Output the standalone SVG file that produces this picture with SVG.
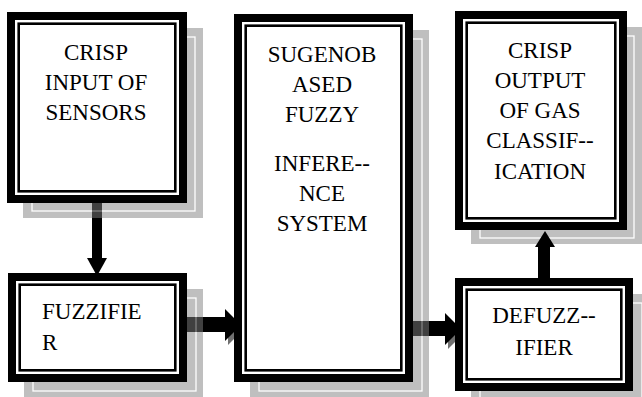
<svg xmlns="http://www.w3.org/2000/svg" width="642" height="397" viewBox="0 0 642 397">
  <style>
    .shadow { opacity: 0.5; }
    .shadow rect.fill { fill: #808080; }
    .shadow rect.line { fill: none; stroke: #ffffff; stroke-width: 1.3; }
    .frame { fill: #ffffff; stroke: #000000; stroke-width: 8; }
    .inner { fill: none; stroke: #000000; stroke-width: 2.6; }
    .label { font-family: "Liberation Serif", "DejaVu Serif", serif; font-size: 23px; fill: #000000; }
    .mid { text-anchor: middle; }
    .arrow { fill: #000000; }
    .arrow-shade { fill: #707070; }
  </style>

  <!-- Crisp output block (drawn first so the up arrow sits on its shadow) -->
  <g id="crisp-output">
    <g class="shadow">
      <rect class="fill" x="471" y="27" width="172" height="217"/>
      <rect class="line" x="480" y="36" width="154" height="202"/>
    </g>
    <rect class="frame" x="459" y="15" width="164" height="211"/>
    <rect class="inner" x="466.7" y="22.7" width="148.6" height="195.6"/>
    <g class="label" font-family="Liberation Serif, DejaVu Serif, serif">
      <text class="mid" x="540" y="58">CRISP</text>
      <text class="mid" x="540" y="88">OUTPUT</text>
      <text class="mid" x="540" y="118">OF GAS</text>
      <text class="mid" x="540" y="148">CLASSIF--</text>
      <text class="mid" x="540" y="179">ICATION</text>
    </g>
  </g>

  <!-- Block arrows between the stages -->
  <g id="connectors">
    <g id="input-to-fuzzifier">
      <rect class="arrow" x="92" y="200" width="10" height="60"/>
      <polygon class="arrow" points="87,258 107,258 97,276"/>
    </g>
    <g id="fuzzifier-to-inference">
      <polygon class="arrow-shade" points="228,313 228,345 244,329"/>
      <rect class="arrow" x="185" y="317" width="42" height="15"/>
      <polygon class="arrow" points="225,309 225,341 241,325"/>
    </g>
    <g id="inference-to-defuzzifier">
      <polygon class="arrow-shade" points="448,317 448,349 464,333"/>
      <rect class="arrow" x="411" y="321" width="36" height="15"/>
      <polygon class="arrow" points="445,313 445,345 461,329"/>
    </g>
    <g id="defuzzifier-to-output">
      <rect class="arrow" x="538" y="245" width="12" height="36"/>
      <polygon class="arrow" points="535,247 555,247 545,231"/>
    </g>
  </g>

  <!-- Crisp input block -->
  <g id="crisp-input">
    <g class="shadow">
      <rect class="fill" x="23" y="28" width="180" height="190"/>
      <rect class="line" x="32" y="37" width="163" height="174"/>
    </g>
    <rect class="frame" x="11" y="16" width="172" height="183"/>
    <rect class="inner" x="18.7" y="23.7" width="156.6" height="167.6"/>
    <g class="label" font-family="Liberation Serif, DejaVu Serif, serif">
      <text class="mid" x="96" y="60">CRISP</text>
      <text class="mid" x="96" y="90">INPUT OF</text>
      <text class="mid" x="96" y="120">SENSORS</text>
    </g>
  </g>

  <!-- Fuzzifier block -->
  <g id="fuzzifier">
    <g class="shadow">
      <rect class="fill" x="24" y="289" width="179" height="109"/>
      <rect class="line" x="33" y="298" width="163" height="93"/>
    </g>
    <rect class="frame" x="12" y="277" width="171" height="101"/>
    <rect class="inner" x="19.7" y="284.7" width="155.6" height="85.6"/>
    <g class="label" font-family="Liberation Serif, DejaVu Serif, serif">
      <text x="42" y="319">FUZZIFIE</text>
      <text x="42" y="350">R</text>
    </g>
  </g>

  <!-- Sugeno based fuzzy inference block -->
  <g id="inference">
    <g class="shadow">
      <rect class="fill" x="250" y="30" width="179" height="368"/>
      <rect class="line" x="259" y="39" width="163" height="352"/>
    </g>
    <rect class="frame" x="238" y="18" width="171" height="360"/>
    <rect class="inner" x="245.7" y="25.7" width="155.6" height="344.6"/>
    <g class="label" font-family="Liberation Serif, DejaVu Serif, serif">
      <text class="mid" x="322" y="62">SUGENOB</text>
      <text class="mid" x="322" y="92">ASED</text>
      <text class="mid" x="322" y="122">FUZZY</text>
      <text class="mid" x="322" y="171">INFERE--</text>
      <text class="mid" x="322" y="201">NCE</text>
      <text class="mid" x="322" y="231">SYSTEM</text>
    </g>
  </g>

  <!-- Defuzzifier block -->
  <g id="defuzzifier">
    <g class="shadow">
      <rect class="fill" x="471" y="294" width="178" height="113"/>
      <rect class="line" x="480" y="303" width="162" height="97"/>
    </g>
    <rect class="frame" x="459" y="282" width="170" height="105"/>
    <rect class="inner" x="466.7" y="289.7" width="154.6" height="89.6"/>
    <g class="label" font-family="Liberation Serif, DejaVu Serif, serif">
      <text class="mid" x="544" y="323">DEFUZZ--</text>
      <text class="mid" x="544" y="355">IFIER</text>
    </g>
  </g>
</svg>
